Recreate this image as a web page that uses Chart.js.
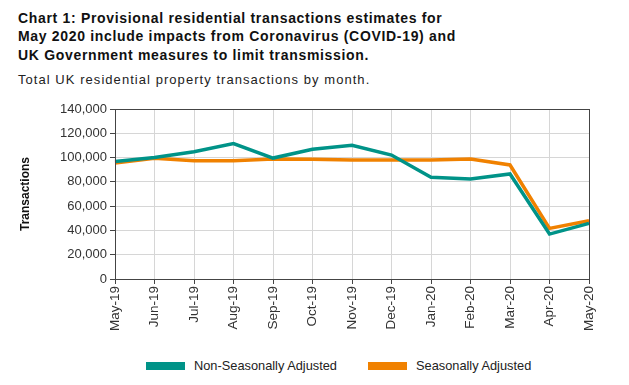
<!DOCTYPE html>
<html>
<head>
<meta charset="utf-8">
<script src="https://cdn.jsdelivr.net/npm/chart.js@4.4.1/dist/chart.umd.min.js"></script>
<style>
  body { margin: 0; background: #fff; font-family: "Liberation Sans", Arial, sans-serif; }
  #wrap { position: relative; width: 629px; height: 385px; overflow: hidden; }
  .title { position: absolute; left: 18px; top: 9px; font-size: 14px; font-weight: bold; line-height: 18.3px; letter-spacing: 0.68px; color: #111; }
  .subtitle { position: absolute; left: 18px; top: 72px; font-size: 13px; letter-spacing: 1.05px; color: #222; }
  #box { position: absolute; left: 0; top: 90px; width: 629px; height: 260px; }
  .legend { position: absolute; top: 358px; font-size: 12.8px; color: #222; }
  .legend span.sw { position: absolute; top: 4px; width: 39px; height: 8px; }
  .legend span.tx { position: absolute; left: 48px; top: 0; white-space: nowrap; }
</style>
</head>
<body>
<div id="wrap">
  <div class="title">Chart 1: Provisional residential transactions estimates for<br>May 2020 include impacts from Coronavirus (COVID-19) and<br>UK Government measures to limit transmission.</div>
  <div class="subtitle">Total UK residential property transactions by month.</div>
  <div id="box"><canvas id="chart" width="629" height="260"></canvas></div>
  <div class="legend" style="left:146px"><span class="sw" style="background:#009388"></span><span class="tx">Non-Seasonally Adjusted</span></div>
  <div class="legend" style="left:368px"><span class="sw" style="background:#f08100"></span><span class="tx">Seasonally Adjusted</span></div>
</div>
<script>
const months = ['May-19', 'Jun-19', 'Jul-19', 'Aug-19', 'Sep-19', 'Oct-19', 'Nov-19',
                'Dec-19', 'Jan-20', 'Feb-20', 'Mar-20', 'Apr-20', 'May-20'];
const nonSeasonal = [96800, 100000, 104800, 111500, 99600, 106800, 110200, 102100, 83700, 82300, 86500, 37000, 45800];
const seasonal = [95600, 99400, 97400, 97400, 98800, 98600, 98000, 98000, 98000, 98800, 93900, 41700, 48000];

// box round the plot area (top and right sides too)
const frame = {
  id: 'frame',
  afterDraw(chart) {
    const { ctx, chartArea: a } = chart;
    ctx.save();
    ctx.strokeStyle = '#444';
    ctx.lineWidth = 1;
    ctx.strokeRect(Math.round(a.left) + 0.5, Math.round(a.top) + 0.5, Math.round(a.right - a.left), Math.round(a.bottom - a.top));
    ctx.restore();
  }
};

new Chart(document.getElementById('chart'), {
  type: 'line',
  data: {
    labels: months,
    datasets: [
      { label: 'Non-Seasonally Adjusted', data: nonSeasonal, borderColor: '#009388', borderWidth: 3.5, pointRadius: 0, tension: 0 },
      { label: 'Seasonally Adjusted', data: seasonal, borderColor: '#f08100', borderWidth: 3.5, pointRadius: 0, tension: 0 }
    ]
  },
  options: {
    responsive: false,
    animation: false,
    layout: { padding: { left: 0, top: 19, right: 40, bottom: 0 } },
    plugins: { legend: { display: false }, tooltip: { enabled: false } },
    scales: {
      x: {
        afterFit(s) { s.height = 71; },
        grid: { color: '#d6d6d6', tickLength: 5, tickColor: '#444' },
        border: { color: '#444' },
        ticks: { minRotation: 90, maxRotation: 90, autoSkip: false, color: '#333', padding: 2,
                 font: { family: '"Liberation Sans", Arial, sans-serif', size: 13.5 } }
      },
      y: {
        min: 0, max: 140000,
        afterFit(s) { s.width = 115; },
        grid: { color: '#d6d6d6', tickLength: 5, tickColor: '#444' },
        border: { color: '#444' },
        ticks: { stepSize: 20000, color: '#333', padding: 3,
                 font: { family: '"Liberation Sans", Arial, sans-serif', size: 13 },
                 callback: v => v.toLocaleString('en-GB') },
        title: { display: true, text: 'Transactions', color: '#111', padding: { top: 18, bottom: 0 },
                 font: { family: '"Liberation Sans", Arial, sans-serif', size: 12, weight: 'bold' } }
      }
    }
  },
  plugins: [frame]
});
</script>
</body>
</html>
